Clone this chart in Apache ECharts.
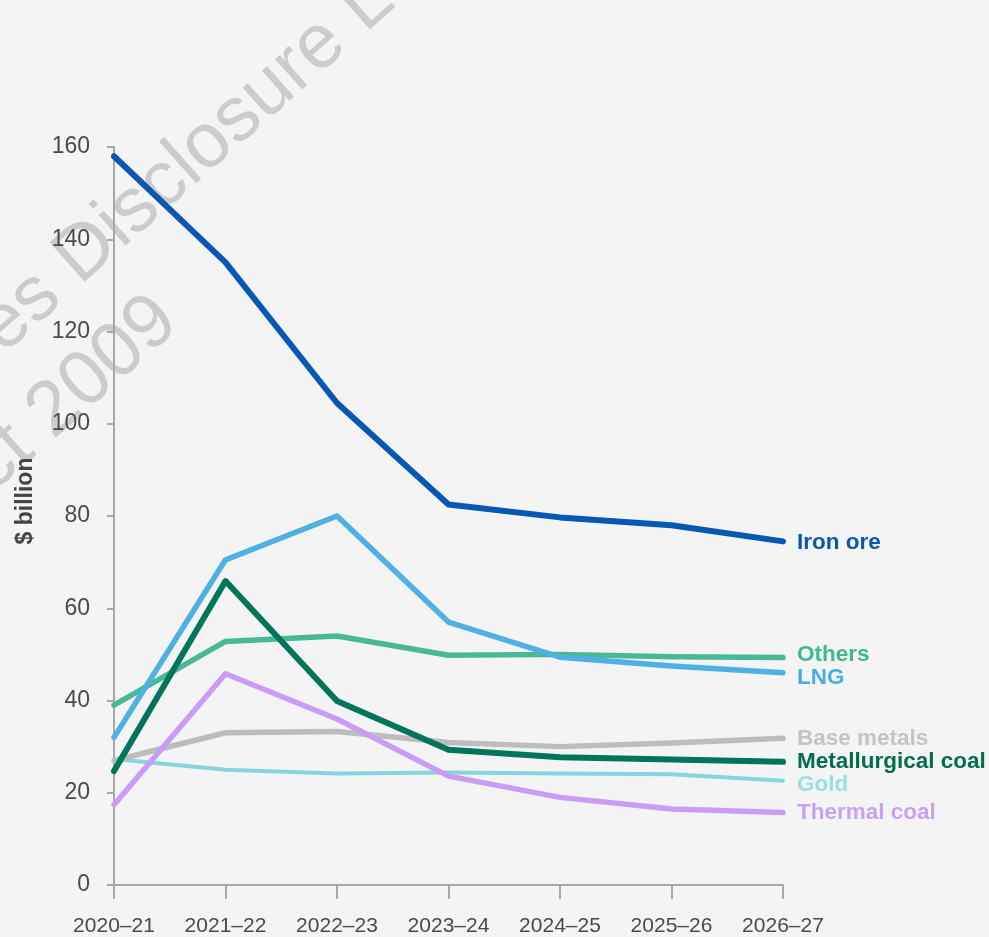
<!DOCTYPE html>
<html>

<head>
    <meta charset="utf-8">
    <title>Resource export earnings</title>
    <script src="https://cdn.jsdelivr.net/npm/echarts@6/dist/echarts.min.js"></script>
</head>

<body style="margin:0;background:#f4f4f4;">
    <div id="main" style="width: 989px;height:937px;"></div>
    <script type="text/javascript">
        // categories and values ($ billion)
        var years = ['2020–21', '2021–22', '2022–23', '2023–24', '2024–25', '2025–26', '2026–27'];
        var ironOre = [158, 135, 104.5, 82.5, 79.7, 78, 74.5];
        var lng = [32, 70.5, 80, 57, 49.4, 47.5, 46];
        var others = [39, 52.8, 54, 49.8, 50, 49.5, 49.3];
        var metCoal = [24.7, 65.9, 39.9, 29.3, 27.7, 27.2, 26.7];
        var baseMetals = [27, 33, 33.3, 30.9, 30, 30.8, 31.8];
        var gold = [27.3, 25, 24.2, 24.4, 24.2, 24, 22.6];
        var thermalCoal = [17.4, 45.8, 36, 23.6, 19, 16.5, 15.7];
        var yTicks = { min: 0, max: 160, interval: 20 };

        var font = '"Liberation Sans", Arial, sans-serif';
        var dom = document.getElementById('main');
        var myChart = echarts.init(dom);

        // one line series, with its name written at the end of the line
        function line(name, data, color, labelColor, width, dy) {
            return {
                name: name,
                type: 'line',
                data: data,
                symbol: 'none',
                smooth: false,
                lineStyle: { color: color, width: width, cap: 'round', join: 'round' },
                itemStyle: { color: color },
                emphasis: { disabled: true },
                endLabel: {
                    show: true,
                    formatter: name,
                    color: labelColor,
                    fontFamily: font,
                    fontWeight: 'bold',
                    fontSize: 22.5,
                    distance: 14,
                    offset: [0, dy]
                }
            };
        }

        // watermark pieces, rotated, under the lines
        var markAngle = 41.5 * Math.PI / 180;
        function mark(text, x, y, align) {
            return {
                type: 'text',
                x: x,
                y: y,
                rotation: markAngle,
                silent: true,
                z: 0,
                style: {
                    text: text,
                    fill: '#cccccc',
                    fontSize: 77,
                    fontFamily: font,
                    align: align,
                    verticalAlign: 'middle'
                }
            };
        }

        var option = {
            backgroundColor: '#f4f4f4',
            animation: false,
            graphic: [
                mark('Resources', 50, 285, 'right'),
                mark('Disclosure Log', 66, 270, 'left'),
                mark('Right to Information Act', 23, 438, 'right'),
                mark('2009', 39, 424, 'left')
            ],
            grid: { left: 114, right: 206, top: 147, bottom: 51 },
            xAxis: {
                type: 'category',
                data: years,
                boundaryGap: false,
                axisLine: { lineStyle: { color: '#a8a8a8', width: 2 } },
                axisTick: { show: true, length: 14, lineStyle: { color: '#a8a8a8', width: 2 } },
                axisLabel: { color: '#4a4a4a', fontSize: 21, fontFamily: font, margin: 31 }
            },
            yAxis: {
                type: 'value',
                min: yTicks.min,
                max: yTicks.max,
                interval: yTicks.interval,
                name: '$ billion',
                nameLocation: 'middle',
                nameGap: 77,
                nameTextStyle: {
                    color: '#454545', fontSize: 23, fontWeight: 'bold', fontFamily: font,
                    padding: [0, 0, 0, 30]
                },
                axisLine: { show: true, lineStyle: { color: '#a8a8a8', width: 2 } },
                axisTick: { show: true, length: 7, lineStyle: { color: '#a8a8a8', width: 2 } },
                axisLabel: { color: '#4a4a4a', fontSize: 23, fontFamily: font, margin: 24 },
                splitLine: { show: false }
            },
            series: [
                line('Gold', gold, '#86d5da', '#9adfe2', 4, 4),
                line('Base metals', baseMetals, '#bdbdbd', '#c4c4c4', 5.5, 0),
                line('Others', others, '#47b995', '#3fb88f', 5.5, -3),
                line('LNG', lng, '#4eb0e3', '#45aee6', 5.5, 5),
                line('Thermal coal', thermalCoal, '#c99cf8', '#c8a2f2', 5.5, 0),
                line('Metallurgical coal', metCoal, '#00755a', '#006e4f', 6, 0),
                line('Iron ore', ironOre, '#0757b4', '#0a56b0', 6, 1)
            ]
        };

        if (option && typeof option === 'object') {
            myChart.setOption(option, true);
        }
    </script>
</body>

</html>
